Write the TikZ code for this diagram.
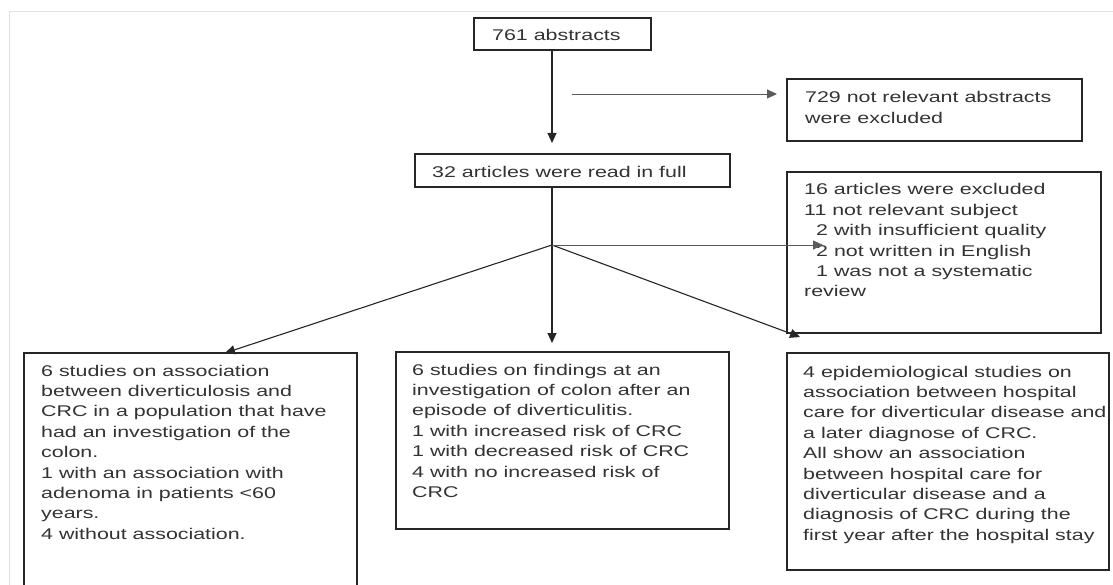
\documentclass[tikz,border=0pt]{standalone}
\usepackage{fontspec}
\setmainfont{Liberation Sans}[FakeStretch=1.38]
\usetikzlibrary{arrows.meta,calc}
\definecolor{txt}{HTML}{333333}
\definecolor{ln}{HTML}{262626}
\definecolor{framec}{HTML}{E0E0E0}
\definecolor{thinc}{HTML}{5A5A5A}
\begin{document}
\begin{tikzpicture}[x=1pt,y=-1pt,
  box/.style={draw=ln,line width=1.3pt,inner sep=0pt,outer sep=0pt},
  tnode/.style={anchor=base west,inner sep=0pt,text=txt,font=\fontsize{15.5}{20.4}\selectfont},
  arr/.style={draw=ln,line width=1.1pt,-{Triangle[length=10pt,width=9pt]}},
  conn/.style={draw=ln,line width=1.1pt},
  thinarr/.style={draw=thinc,line width=0.9pt,-{Triangle[length=10pt,width=9pt]}}]
\clip (0,0) rectangle (1113,585);
\fill[white] (0,0) rectangle (1113,585);
\draw[framec,line width=1pt] (9,585) -- (9,12) -- (1113,12);

% boxes
\node[box,minimum width=177pt,minimum height=32pt] (abs) at (562.5,34) {};
\node[box,minimum width=315pt,minimum height=33pt] (full) at (572.5,170.5) {};
\node[box,minimum width=295pt,minimum height=62pt] (ex1) at (934.5,110) {};
\node[box,minimum width=314pt,minimum height=161pt] (ex2) at (944,252.5) {};
\node[box,minimum width=333pt,minimum height=247pt] (left) at (190.5,476.5) {};
\node[box,minimum width=333pt,minimum height=177pt] (mid) at (562.5,440.5) {};
\node[box,minimum width=322pt,minimum height=217pt] (right) at (948,461.5) {};

% texts
\node[tnode] (tabs) at (492,41) {761 abstracts};
\node[tnode] (tfull) at (432,178) {32 articles were read in full};
\node[tnode] (tex1) at (805,103) {\begin{tabular}[t]{@{}l@{}}729 not relevant abstracts\\were excluded\end{tabular}};
\node[tnode] (tex2) at (804,195) {\begin{tabular}[t]{@{}l@{}}16 articles were excluded\\11 not relevant subject\\\hspace*{12pt}2 with insufficient quality\\\hspace*{12pt}2 not written in English\\\hspace*{12pt}1 was not a systematic\\review\end{tabular}};
\node[tnode] (tleft) at (41,376) {\begin{tabular}[t]{@{}l@{}}6 studies on association\\between diverticulosis and\\CRC in a population that have\\had an investigation of the\\colon.\\1 with an association with\\adenoma in patients <60\\years.\\4 without association.\end{tabular}};
\node[tnode] (tmid) at (412,375) {\begin{tabular}[t]{@{}l@{}}6 studies on findings at an\\investigation of colon after an\\episode of diverticulitis.\\1 with increased risk of CRC\\1 with decreased risk of CRC\\4 with no increased risk of\\CRC\end{tabular}};
\node[tnode] (tright) at (803,377) {\begin{tabular}[t]{@{}l@{}}4 epidemiological studies on\\association between hospital\\care for diverticular disease and\\a later diagnose of CRC.\\All show an association\\between hospital care for\\diverticular disease and a\\diagnosis of CRC during the\\first year after the hospital stay\end{tabular}};

% connectors
\coordinate (br) at (552,245);
\coordinate (h1) at (572,94);
\draw[arr,shorten >=11pt] (abs.south -| br) -- (full.north -| br);
\draw[conn] (full.south -| br) -- (br);
\draw[arr,shorten >=9pt] (br) -- (mid.north -| br);
\draw[arr] (br) -- ($(left.north west)+(201,0)$);
\draw[arr] (br) -- ($(right.north west)+(13,-16)$);
\draw[thinarr] (br) -- ($(ex2.west |- br)+(36,0)$);
\draw[thinarr,shorten >=10pt] (h1) -- (h1 -| ex1.west);
\end{tikzpicture}
\end{document}
